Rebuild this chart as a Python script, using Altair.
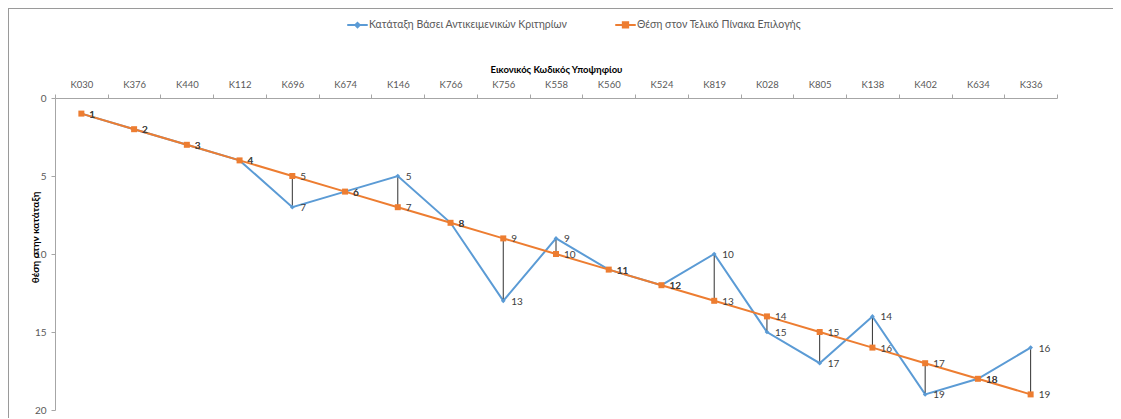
import altair as alt
import pandas as pd

categories = ["K030", "K376", "K440", "K112", "K696", "K674", "K146", "K766", "K756", "K558",
              "K560", "K524", "K819", "K028", "K805", "K138", "K402", "K634", "K336"]
objective_rank = [1, 2, 3, 4, 7, 6, 5, 8, 13, 9, 11, 12, 10, 15, 17, 14, 19, 18, 16]
final_position = [1, 2, 3, 4, 5, 6, 7, 8, 9, 10, 11, 12, 13, 14, 15, 16, 17, 18, 19]
y_ticks = [0, 5, 10, 15, 20]

s1 = "Κατάταξη Βάσει Αντικειμενικών Κριτηρίων"
s2 = "Θέση στον Τελικό Πίνακα Επιλογής"
BLUE = "#5B9BD5"
ORANGE = "#ED7D31"
FONT = "Lato"

long_rows = []
for c, v in zip(categories, objective_rank):
    long_rows.append({"cat": c, "series": s1, "value": v})
for c, v in zip(categories, final_position):
    long_rows.append({"cat": c, "series": s2, "value": v})
long_df = pd.DataFrame(long_rows)
wide_df = pd.DataFrame({"cat": categories, "obj": objective_rank, "fin": final_position})

W, H = 1002, 312

xscale = alt.Scale(type="band", domain=categories, paddingInner=0, paddingOuter=0)
yscale = alt.Scale(domain=[0, 20], reverse=True, nice=False, zero=False)
cscale = alt.Scale(domain=[s1, s2], range=[BLUE, ORANGE])

x_axis = alt.Axis(orient="top", title="Εικονικός Κωδικός Υποψηφίου",
                  labelAngle=0, tickBand="extent", tickSize=4,
                  labelPadding=5, titlePadding=5,
                  titleFontSize=9.5, titleFontWeight="bold", titleColor="#000000",
                  labelFontSize=9.5, labelColor="#595959",
                  domainColor="#A6A6A6", tickColor="#A6A6A6")
y_axis = alt.Axis(values=y_ticks, grid=False, title="θέση στην κατάταξη",
                  tickSize=4, labelPadding=5, labelFontSize=10, labelColor="#595959",
                  domainColor="#A6A6A6", tickColor="#A6A6A6",
                  titleFontSize=10, titleFontWeight="bold", titleColor="#000000",
                  titleX=-20, titleY=139, titleBaseline="middle", titleAlign="center")

x_enc = alt.X("cat:N", scale=xscale, bandPosition=0.5, sort=categories, axis=x_axis)
y_enc = alt.Y("value:Q", scale=yscale, axis=y_axis)

PATH_DIAMOND = "M-1,0L1,0M0,-0.22L0.22,0L0,0.22L-0.22,0Z"
PATH_SQUARE = "M-1,0L1,0M-0.26,-0.26L0.26,-0.26L0.26,0.26L-0.26,0.26Z"

legend = alt.Legend(
    orient="none", legendX=291, legendY=-85, direction="horizontal", title=None,
    labelFontSize=10.5, labelColor="#595959", labelLimit=400, columnPadding=43,
    symbolSize=420, symbolStrokeWidth=2, labelOffset=0,
    symbolType=alt.ExprRef(expr="datum.index === 0 ? '" + PATH_DIAMOND + "' : '" + PATH_SQUARE + "'"),
    symbolFillColor=alt.ExprRef(expr="datum.index === 0 ? '" + BLUE + "' : '" + ORANGE + "'"),
)

base = alt.Chart(long_df)

lines = base.mark_line(strokeWidth=2).encode(
    x=x_enc, y=y_enc,
    color=alt.Color("series:N", scale=cscale, legend=legend),
    order=alt.Order("series:N", sort="ascending"),
)

hilo = alt.Chart(wide_df).mark_rule(color="#303030", strokeWidth=1).encode(
    x=x_enc, y=alt.Y("obj:Q", scale=yscale, axis=y_axis), y2="fin:Q",
)

pts_blue = base.transform_filter(alt.datum.series == s1).mark_point(
    shape="diamond", filled=True, size=22, color=BLUE, opacity=1
).encode(x=x_enc, y=y_enc)

pts_orange = base.transform_filter(alt.datum.series == s2).mark_point(
    shape="square", filled=True, size=36, color=ORANGE, opacity=1
).encode(x=x_enc, y=y_enc)

labels = base.mark_text(align="left", baseline="middle", dx=8, dy=1, fontSize=10,
                        color="#404040").encode(
    x=x_enc, y=y_enc, text=alt.Text("value:Q"))

border_df = pd.DataFrame({"k": [0]})
border_top = alt.Chart(border_df).mark_rule(color="#9A9A9A", strokeWidth=1).encode(
    x=alt.value(-47), x2=alt.value(W + 60), y=alt.value(-89.5))
border_left = alt.Chart(border_df).mark_rule(color="#9A9A9A", strokeWidth=1).encode(
    x=alt.value(-46.5), y=alt.value(-90), y2=alt.value(H + 40))

chart = alt.layer(
    lines, hilo, pts_blue, pts_orange, labels, border_top, border_left
).properties(
    width=W, height=H,
    autosize=alt.AutoSizeParams(type="none"),
    padding={"left": 47, "top": 90, "right": 56, "bottom": 8},
).configure(font=FONT).configure_view(stroke=None)

chart.save("out.html", embed_options={"renderer": "svg", "actions": False})
